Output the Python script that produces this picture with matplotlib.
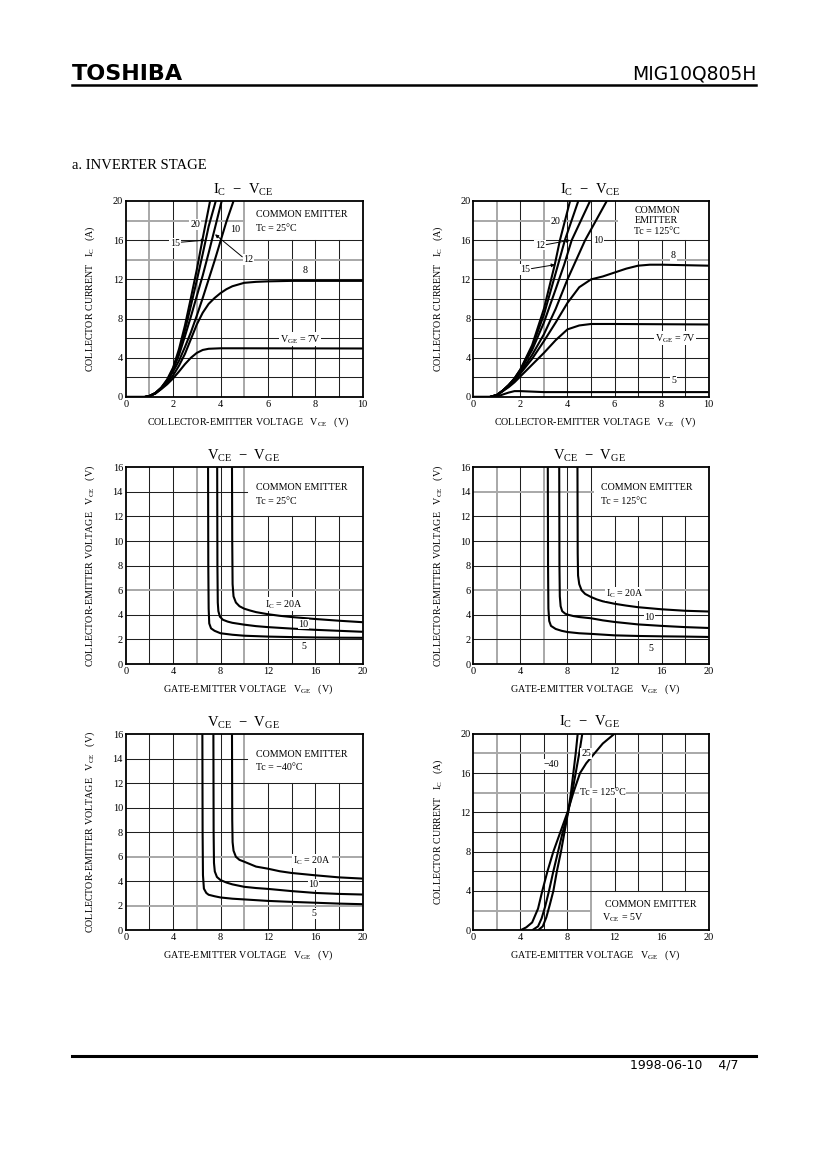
import numpy as np
import matplotlib
matplotlib.use('Agg')
import matplotlib.pyplot as plt
from matplotlib.lines import Line2D

plt.rcParams['font.family'] = ['Liberation Serif', 'DejaVu Serif']
plt.rcParams['mathtext.fontset'] = 'custom'
plt.rcParams['mathtext.rm'] = 'Liberation Serif'
plt.rcParams['mathtext.it'] = 'Liberation Serif:italic'
plt.rcParams['mathtext.bf'] = 'Liberation Serif:bold'

# ---- panel 1 : IC - VCE, Tc = 25 C ----
ic_vce_25_vge = ['7', '8', '10', '12', '15', '20']
ic_vce_25_x = {
    '7': [0, 0.8, 1.0, 1.25, 1.5, 1.75, 2.0, 2.25, 2.5, 2.75, 3.0, 3.25, 3.5, 4.0, 5.0, 10.0],
    '8': [0, 0.8, 1.0, 1.25, 1.5, 1.75, 2.0, 2.25, 2.5, 2.75, 3.0, 3.25, 3.5, 3.75, 4.0, 4.25, 4.5,
          5.0, 5.5, 6.0, 7.0, 10.0],
    '10': [0, 0.8, 1.0, 1.25, 1.5, 1.75, 2.0, 2.25, 2.5, 2.75, 3.0, 3.25, 3.5, 3.75, 4.0, 4.25, 4.55],
    '12': [0, 0.8, 1.0, 1.25, 1.5, 1.75, 2.0, 2.25, 2.5, 2.75, 3.0, 3.25, 3.5, 3.75, 4.05],
    '15': [0, 0.8, 1.0, 1.25, 1.5, 1.75, 2.0, 2.25, 2.5, 2.75, 3.0, 3.25, 3.5, 3.8],
    '20': [0, 0.8, 1.0, 1.25, 1.5, 1.75, 2.0, 2.25, 2.5, 2.75, 3.0, 3.25, 3.56],
}
ic_vce_25_y = {
    '7': [0, 0, 0.1, 0.35, 0.8, 1.3, 1.9, 2.6, 3.35, 4.0, 4.5, 4.8, 4.92, 4.97, 4.97, 4.95],
    '8': [0, 0, 0.1, 0.35, 0.85, 1.45, 2.2, 3.2, 4.4, 5.9, 7.4, 8.6, 9.5, 10.1, 10.6, 11.0, 11.3,
          11.65, 11.75, 11.8, 11.85, 11.85],
    '10': [0, 0, 0.1, 0.4, 0.9, 1.6, 2.6, 3.7, 5.1, 6.6, 8.3, 10.1, 12.0, 13.9, 15.9, 17.9, 20],
    '12': [0, 0, 0.1, 0.4, 0.92, 1.65, 2.8, 4.3, 6.2, 8.2, 10.3, 12.4, 14.7, 17.1, 20],
    '15': [0, 0, 0.1, 0.4, 0.95, 1.7, 2.9, 4.6, 6.8, 9.3, 11.9, 14.6, 17.4, 20],
    '20': [0, 0, 0.1, 0.4, 0.95, 1.8, 3.0, 4.9, 7.3, 10.1, 13.0, 16.2, 20],
}

# ---- panel 2 : IC - VCE, Tc = 125 C ----
ic_vce_125_vge = ['5', '7', '8', '10', '12', '15', '20']
ic_vce_125_x = {
    '5': [0, 0.8, 1.0, 1.25, 1.5, 1.75, 2.0, 2.5, 3.0, 10.0],
    '7': [0, 0.7, 1.0, 1.25, 1.5, 1.75, 2.0, 2.5, 3.0, 3.5, 4.0, 4.5, 5.0, 6.0, 10.0],
    '8': [0, 0.7, 1.0, 1.25, 1.5, 1.75, 2.0, 2.5, 3.0, 3.5, 4.0, 4.5, 5.0, 5.5, 6.0, 6.5, 7.0, 7.5,
          8.0, 9.0, 10.0],
    '10': [0, 0.7, 1.0, 1.25, 1.5, 1.75, 2.0, 2.5, 3.0, 3.5, 4.0, 4.75, 5.67],
    '12': [0, 0.7, 1.0, 1.25, 1.5, 1.75, 2.0, 2.5, 3.0, 3.5, 3.86, 4.18, 4.96],
    '15': [0, 0.7, 1.0, 1.25, 1.5, 1.75, 2.0, 2.5, 3.0, 3.6, 3.89, 4.46],
    '20': [0, 0.7, 1.0, 1.25, 1.5, 1.75, 2.0, 2.5, 3.0, 3.46, 3.68, 4.11],
}
ic_vce_125_y = {
    '5': [0, 0, 0.05, 0.25, 0.45, 0.6, 0.6, 0.55, 0.5, 0.5],
    '7': [0, 0, 0.2, 0.6, 1.0, 1.5, 2.1, 3.3, 4.5, 5.8, 6.9, 7.3, 7.45, 7.45, 7.4],
    '8': [0, 0, 0.2, 0.6, 1.1, 1.7, 2.4, 3.9, 5.7, 7.6, 9.6, 11.2, 12.0, 12.3, 12.7, 13.1, 13.4, 13.5,
          13.5, 13.45, 13.4],
    '10': [0, 0, 0.2, 0.65, 1.2, 1.8, 2.5, 4.3, 6.4, 9.0, 12.0, 16.0, 20],
    '12': [0, 0, 0.2, 0.65, 1.2, 1.85, 2.7, 4.8, 7.6, 11.0, 13.5, 16.0, 20],
    '15': [0, 0, 0.2, 0.65, 1.2, 1.9, 2.8, 5.1, 8.4, 13.5, 16.0, 20],
    '20': [0, 0, 0.2, 0.65, 1.2, 1.9, 2.8, 5.3, 9.0, 13.5, 16.0, 20],
}

# ---- panels 3-5 : VCE - VGE ----
vce_vge_ic = ['5', '10', '20']
vce_vge_25_x = {
    '5': [6.95, 6.97, 7.0, 7.05, 7.2, 7.5, 8, 9, 10, 12, 14, 16, 18, 20],
    '10': [7.72, 7.74, 7.77, 7.82, 7.95, 8.2, 8.6, 9, 10, 11, 12, 14, 16, 18, 20],
    '20': [8.97, 8.99, 9.02, 9.1, 9.3, 9.6, 10, 10.5, 11, 12, 13, 14, 16, 18, 20],
}
vce_vge_25_y = {
    '5': [16, 8, 4.5, 3.3, 2.9, 2.7, 2.5, 2.38, 2.3, 2.23, 2.19, 2.16, 2.14, 2.13],
    '10': [16, 8, 5.0, 4.3, 3.85, 3.6, 3.45, 3.35, 3.2, 3.08, 3.0, 2.88, 2.78, 2.7, 2.62],
    '20': [16, 10, 6.5, 5.5, 5.0, 4.7, 4.5, 4.35, 4.22, 4.05, 3.92, 3.82, 3.66, 3.52, 3.4],
}
vce_vge_125_x = {
    '5': [6.33, 6.35, 6.38, 6.45, 6.6, 7, 7.5, 8, 9, 10, 12, 14, 16, 18, 20],
    '10': [7.3, 7.32, 7.35, 7.42, 7.55, 7.8, 8, 8.5, 9, 10, 11, 12, 14, 16, 18, 20],
    '20': [8.85, 8.87, 8.9, 9.0, 9.2, 9.5, 10, 10.5, 11, 12, 13, 14, 16, 18, 20],
}
vce_vge_125_y = {
    '5': [16, 8, 4.5, 3.5, 3.1, 2.85, 2.7, 2.6, 2.5, 2.45, 2.33, 2.28, 2.25, 2.23, 2.2],
    '10': [16, 8, 5.5, 4.7, 4.3, 4.1, 4.02, 3.9, 3.82, 3.72, 3.55, 3.42, 3.22, 3.1, 3.0, 2.93],
    '20': [16, 9, 7.2, 6.5, 6.0, 5.7, 5.45, 5.25, 5.1, 4.9, 4.75, 4.62, 4.45, 4.33, 4.27],
}
vce_vge_m40_x = {
    '5': [6.47, 6.49, 6.52, 6.6, 6.8, 7, 7.5, 8, 9, 10, 12, 14, 16, 18, 20],
    '10': [7.4, 7.42, 7.45, 7.52, 7.7, 8, 8.5, 9, 10, 11, 12, 14, 16, 18, 20],
    '20': [8.97, 8.99, 9.02, 9.1, 9.3, 9.6, 10, 10.5, 11, 12, 13, 14, 16, 18, 20],
}
vce_vge_m40_y = {
    '5': [16, 8, 4.5, 3.4, 3.05, 2.9, 2.78, 2.68, 2.58, 2.52, 2.4, 2.32, 2.25, 2.18, 2.13],
    '10': [16, 8, 5.5, 4.8, 4.35, 4.1, 3.9, 3.75, 3.55, 3.45, 3.38, 3.2, 3.05, 2.97, 2.92],
    '20': [16, 9, 7.2, 6.5, 6.0, 5.75, 5.6, 5.4, 5.2, 5.03, 4.82, 4.68, 4.49, 4.32, 4.22],
}

# ---- panel 6 : IC - VGE, VCE = 5 V ----
ic_vge_tc = ['125', '25', '-40']
ic_vge_x = {
    '125': [4.0, 4.5, 5.0, 5.5, 5.86, 6.3, 6.8, 7.4, 8.0, 8.5, 9.07, 9.6, 10.3, 11.0, 12.0],
    '25': [5.0, 5.5, 5.8, 6.1, 6.43, 6.8, 7.2, 7.6, 8.05, 8.4, 8.7, 9.0, 9.26],
    '-40': [5.5, 5.9, 6.2, 6.5, 6.8, 7.1, 7.45, 7.75, 8.05, 8.3, 8.5, 8.7, 8.87],
}
ic_vge_y = {
    '125': [0, 0.3, 0.8, 2.2, 4, 6, 8, 10, 12, 14, 16, 17, 18, 19, 20],
    '25': [0, 0.4, 1.2, 2.4, 4, 6, 8, 10, 12, 14, 16, 18, 20],
    '-40': [0, 0.4, 1.3, 2.6, 4, 6, 8, 10, 12, 14, 16, 18, 20],
}

W, H = 826, 1169
fig = plt.figure(figsize=(W / 100, H / 100), dpi=100)
FS = 7.2


def fx(x):
    return x / W


def fy(y):
    return 1 - y / H


def make_axes(left, top, right, bottom):
    return fig.add_axes([left / W, 1 - bottom / H, (right - left) / W, (bottom - top) / H])


def setup(ax, xmax, ymax, xstep, ystep, xlab_step, ylab_step, gray_x, gray_y, box):
    ax.set_xlim(0, xmax)
    ax.set_ylim(0, ymax)
    bx0, bx1, by0, by1 = box
    for v in np.arange(xstep, xmax, xstep):
        c, lw = ('#a8a8a8', 1.4) if round(v, 3) in gray_x else ('#202020', 0.75)
        if bx0 < v < bx1:
            if by0 == 0:
                ax.plot([v, v], [by1, ymax], color=c, lw=lw, zorder=1)
            else:
                ax.plot([v, v], [0, by0], color=c, lw=lw, zorder=1)
        else:
            ax.plot([v, v], [0, ymax], color=c, lw=lw, zorder=1)
    for v in np.arange(ystep, ymax, ystep):
        c, lw = ('#a8a8a8', 1.4) if round(v, 3) in gray_y else ('#202020', 0.75)
        if by0 < v < by1:
            ax.plot([0, bx0], [v, v], color=c, lw=lw, zorder=1)
        else:
            ax.plot([0, xmax], [v, v], color=c, lw=lw, zorder=1)
    xt = np.arange(0, xmax + 0.01, xlab_step)
    yt = np.arange(0, ymax + 0.01, ylab_step)
    ax.set_xticks(xt)
    ax.set_yticks(yt)
    ax.set_xticklabels([str(int(t)) for t in xt])
    ax.set_yticklabels([str(int(t)) for t in yt])
    ax.tick_params(length=0, labelsize=7.4, pad=2)
    for s in ax.spines.values():
        s.set_linewidth(1.3)
        s.set_zorder(5)


def lab(ax, x, y, s, ha='center'):
    ax.text(x, y, s, ha=ha, va='center', fontsize=FS, zorder=4,
            bbox=dict(facecolor='white', edgecolor='none', pad=0.6))


def note(ax, x, y, s):
    ax.text(x, y, s, ha='left', va='center', fontsize=FS, zorder=4)


def arrow(ax, x0, y0, x1, y1):
    ax.annotate('', xy=(x1, y1), xytext=(x0, y0), zorder=4,
                arrowprops=dict(arrowstyle='-|>', color='black', lw=0.7,
                                mutation_scale=5, shrinkA=0, shrinkB=0))


def curves(ax, keys, xs, ys):
    for k in keys:
        ax.plot(xs[k], ys[k], color='black', lw=1.5, zorder=3, solid_capstyle='butt')


ylab_ic = r'COLLECTOR CURRENT   I$_{\rm C}$   (A)'
ylab_vce = r'COLLECTOR-EMITTER VOLTAGE   V$_{\rm CE}$   (V)'
xlab_vce = r'COLLECTOR-EMITTER VOLTAGE   V$_{\rm CE}$   (V)'
xlab_vge = r'GATE-EMITTER VOLTAGE   V$_{\rm GE}$   (V)'


def labels(ax, title, xl, yl):
    ax.text(0.495, 1.058, title, transform=ax.transAxes, ha='center', va='center', fontsize=10.5)
    ax.text(0.516, -0.128, xl, transform=ax.transAxes, ha='center', va='center', fontsize=FS)
    ax.text(-0.15, 0.5, yl, transform=ax.transAxes, ha='center', va='center', fontsize=FS,
            rotation=90)


# panel 1
ax1 = make_axes(125.7, 201, 362.7, 397)
setup(ax1, 10, 20, 1, 2, 2, 4, [1, 3, 5], [14, 18], (5.0, 10, 16, 20.5))
curves(ax1, ic_vce_25_vge, ic_vce_25_x, ic_vce_25_y)
labels(ax1, r'I$_{\rm C}$  $-$  V$_{\rm CE}$', xlab_vce, ylab_ic)
note(ax1, 5.49, 18.64, 'COMMON EMITTER')
note(ax1, 5.49, 17.2, 'Tc = 25°C')
lab(ax1, 2.93, 17.6, '20')
lab(ax1, 4.61, 17.1, '10')
lab(ax1, 2.08, 15.7, '15')
arrow(ax1, 2.35, 15.8, 3.35, 16.0)
lab(ax1, 5.18, 14.05, '12')
arrow(ax1, 4.92, 14.3, 3.77, 16.6)
lab(ax1, 7.57, 12.9, '8')
lab(ax1, 7.36, 5.88, r'V$_{\rm GE}$ = 7V')

# panel 2
ax2 = make_axes(473.3, 201, 708.7, 397)
setup(ax2, 10, 20, 1, 2, 2, 4, [1, 3], [14, 18], (6.1, 10, 16, 20.5))
curves(ax2, ic_vce_125_vge, ic_vce_125_x, ic_vce_125_y)
labels(ax2, r'I$_{\rm C}$  $-$  V$_{\rm CE}$', xlab_vce, ylab_ic)
note(ax2, 6.84, 19.0, 'COMMON')
note(ax2, 6.84, 17.96, 'EMITTER')
note(ax2, 6.84, 16.9, 'Tc = 125°C')
lab(ax2, 3.51, 17.9, '20')
lab(ax2, 2.83, 15.5, '12')
arrow(ax2, 3.1, 15.55, 4.11, 16.0)
lab(ax2, 5.31, 15.95, '10')
lab(ax2, 2.2, 13.03, '15')
arrow(ax2, 2.47, 13.1, 3.47, 13.5)
lab(ax2, 8.5, 14.4, '8')
lab(ax2, 8.57, 5.99, r'V$_{\rm GE}$ = 7V')
lab(ax2, 8.5, 1.67, '5')

# panel 3
ax3 = make_axes(125.7, 467.3, 362.7, 664)
setup(ax3, 20, 16, 2, 2, 4, 2, [6, 10], [6], (10.2, 20, 12, 16.5))
curves(ax3, vce_vge_ic, vce_vge_25_x, vce_vge_25_y)
labels(ax3, r'V$_{\rm CE}$  $-$  V$_{\rm GE}$', xlab_vge, ylab_vce)
note(ax3, 10.97, 14.36, 'COMMON EMITTER')
note(ax3, 10.97, 13.25, 'Tc = 25°C')
lab(ax3, 13.36, 4.85, r'I$_{\rm C}$ = 20A')
lab(ax3, 15.0, 3.25, '10')
lab(ax3, 15.05, 1.41, '5')

# panel 4
ax4 = make_axes(473.3, 467.3, 708.7, 664)
setup(ax4, 20, 16, 2, 2, 4, 2, [2, 6], [6, 14], (10.2, 20, 12, 16.5))
curves(ax4, vce_vge_ic, vce_vge_125_x, vce_vge_125_y)
labels(ax4, r'V$_{\rm CE}$  $-$  V$_{\rm GE}$', xlab_vge, ylab_vce)
note(ax4, 10.82, 14.36, 'COMMON EMITTER')
note(ax4, 10.82, 13.25, 'Tc = 125°C')
lab(ax4, 12.9, 5.69, r'I$_{\rm C}$ = 20A')
lab(ax4, 14.96, 3.79, '10')
lab(ax4, 15.1, 1.27, '5')

# panel 5
ax5 = make_axes(125.7, 734.3, 362.7, 930.3)
setup(ax5, 20, 16, 2, 2, 4, 2, [6, 10], [2, 6], (10.2, 20, 12, 16.5))
curves(ax5, vce_vge_ic, vce_vge_m40_x, vce_vge_m40_y)
labels(ax5, r'V$_{\rm CE}$  $-$  V$_{\rm GE}$', xlab_vge, ylab_vce)
note(ax5, 10.97, 14.36, 'COMMON EMITTER')
note(ax5, 10.97, 13.25, 'Tc = \u221240°C')
lab(ax5, 15.7, 5.66, r'I$_{\rm C}$ = 20A')
lab(ax5, 15.84, 3.75, '10')
lab(ax5, 15.84, 1.36, '5')

# panel 6
ax6 = make_axes(473.3, 733.7, 708.7, 930.3)
setup(ax6, 20, 20, 2, 2, 4, 4, [2, 10], [2, 14, 18], (10.0, 20, 0, 4))
curves(ax6, ic_vge_tc, ic_vge_x, ic_vge_y)
labels(ax6, r'I$_{\rm C}$  $-$  V$_{\rm GE}$', xlab_vge, ylab_ic)
note(ax6, 11.2, 2.6, 'COMMON EMITTER')
note(ax6, 10.9, 1.25, r'V$_{\rm CE}$ = 5V')
lab(ax6, 6.66, 16.85, '\u221240')
lab(ax6, 9.57, 18.0, '25')
lab(ax6, 11.0, 13.97, 'Tc = 125°C')

# page header / footer
fig.text(fx(72), fy(80), 'TOSHIBA', fontsize=16, fontweight='bold', family='DejaVu Sans',
         ha='left', va='baseline')
fig.text(fx(756), fy(80), 'MIG10Q805H', fontsize=13.5, family='DejaVu Sans', ha='right',
         va='baseline')
fig.add_artist(Line2D([fx(72), fx(756)], [fy(84.5), fy(84.5)], color='black', lw=1.8))
fig.text(fx(72), fy(169), 'a. INVERTER STAGE', fontsize=10.5, ha='left', va='baseline')
fig.add_artist(Line2D([fx(72), fx(756)], [fy(1055.5), fy(1055.5)], color='black', lw=2.2))
fig.text(fx(738), fy(1068), '1998-06-10    4/7', fontsize=9, family='DejaVu Sans',
         ha='right', va='baseline')

fig.savefig('out.png', dpi=100)
